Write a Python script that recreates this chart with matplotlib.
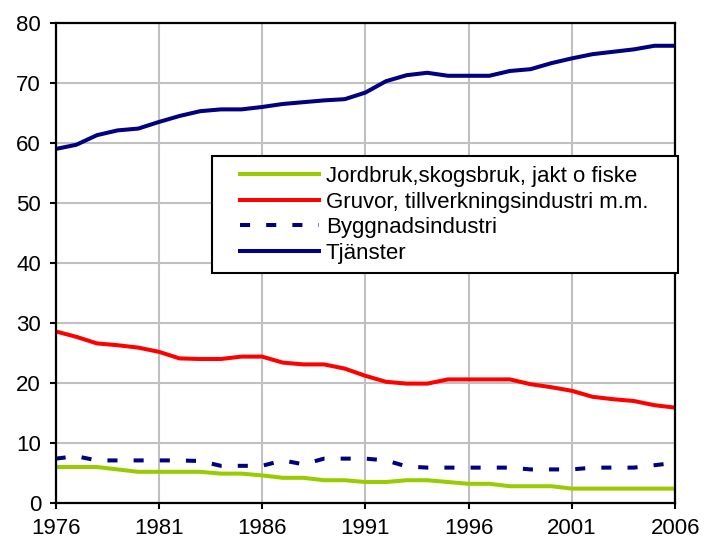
import matplotlib
matplotlib.use("Agg")
import matplotlib.pyplot as plt
from matplotlib.patches import Rectangle

plt.rcParams['font.family'] = ['Liberation Sans', 'DejaVu Sans']

years = list(range(1976, 2007))

jordbruk = [6.0, 6.0, 6.0, 5.6, 5.2, 5.2, 5.2, 5.2, 4.9, 4.9, 4.6, 4.2, 4.2, 3.8, 3.8, 3.5,
            3.5, 3.8, 3.8, 3.5, 3.2, 3.2, 2.8, 2.8, 2.8, 2.4, 2.4, 2.4, 2.4, 2.4, 2.4]
gruvor = [28.6, 27.7, 26.6, 26.3, 25.9, 25.2, 24.1, 24.0, 24.0, 24.4, 24.4, 23.4, 23.1, 23.1, 22.4, 21.2,
          20.2, 19.9, 19.9, 20.6, 20.6, 20.6, 20.6, 19.8, 19.3, 18.7, 17.7, 17.3, 17.0, 16.3, 15.9]
bygg = [7.4, 7.8, 7.1, 7.1, 7.1, 7.1, 7.1, 7.0, 6.2, 6.2, 6.2, 7.1, 6.45, 7.4, 7.4, 7.4,
        7.1, 6.1, 5.9, 5.9, 5.9, 5.9, 5.9, 5.6, 5.6, 5.6, 5.9, 5.9, 5.9, 6.3, 6.7]
tjanster = [59.0, 59.7, 61.3, 62.1, 62.4, 63.5, 64.5, 65.3, 65.6, 65.6, 66.0, 66.5, 66.8, 67.1, 67.3, 68.4,
            70.3, 71.3, 71.7, 71.2, 71.2, 71.2, 72.0, 72.3, 73.3, 74.1, 74.8, 75.2, 75.6, 76.2, 76.2]

labels = ['Jordbruk,skogsbruk, jakt o fiske',
          'Gruvor, tillverkningsindustri m.m.',
          'Byggnadsindustri',
          'Tjänster']

fig = plt.figure(figsize=(7.04, 5.47), dpi=100)
ax = fig.add_axes([0.079, 0.0804, 0.88, 0.8776])

lw = 2.9
ax.plot(years, jordbruk, color='#99cc00', lw=lw, label=labels[0])
ax.plot(years, gruvor, color='#ff0000', lw=lw, label=labels[1])
ax.plot(years, bygg, color='#000080', lw=lw, label=labels[2],
        dashes=(2.5, 4.0), dash_capstyle='butt')
ax.plot(years, tjanster, color='#000080', lw=lw, label=labels[3])

ax.set_xlim(1976, 2006)
ax.set_ylim(0, 80)
ax.set_xticks(range(1976, 2007, 5))
ax.set_yticks(range(0, 81, 10))
ax.grid(True, color='#c0c0c0', lw=1.5)
ax.set_axisbelow(True)
for s in ax.spines.values():
    s.set_linewidth(1.6)
    s.set_color('black')
ax.tick_params(labelsize=16, length=4.5, width=1.5, direction='out', pad=6)

# legend box
box = Rectangle((0.2526, 0.479), 0.752, 0.244, transform=ax.transAxes,
                facecolor='white', edgecolor='black', lw=1.5, zorder=4.5, clip_on=False)
ax.add_patch(box)
leg = ax.legend(loc='upper left', bbox_to_anchor=(0.2978, 0.7015), fontsize=16,
                handlelength=3.56, handletextpad=0.3, labelspacing=0.2,
                borderpad=0, borderaxespad=0, frameon=False)
leg.set_zorder(5)

fig.savefig('out.png', dpi=100)
